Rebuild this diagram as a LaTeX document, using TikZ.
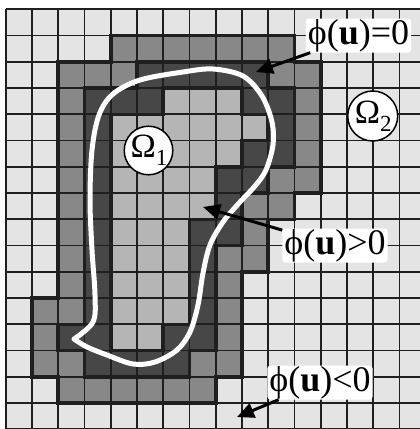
\documentclass[tikz,border=0pt]{standalone}
\usepackage{fontspec}
\setmainfont{Liberation Serif}
\usetikzlibrary{arrows.meta}
\definecolor{c0}{gray}{0.895}
\definecolor{c1}{gray}{0.535}
\definecolor{c2}{gray}{0.28}
\definecolor{c3}{gray}{0.71}
\definecolor{gridc}{gray}{0.12}
\def\M{{0,0,0,0,0,0,0,0,0,0,0,0,0,0,0,0,
0,0,0,0,1,1,1,1,1,1,1,0,0,0,0,0,
0,0,1,1,1,2,2,2,2,2,1,1,0,0,0,0,
0,0,1,2,2,2,3,3,3,2,2,1,0,0,0,0,
0,0,1,2,3,3,3,3,3,3,2,1,0,0,0,0,
0,0,1,2,3,3,3,3,3,2,2,1,0,0,0,0,
0,0,1,2,3,3,3,3,2,2,1,1,0,0,0,0,
0,0,1,2,3,3,3,3,2,1,1,0,0,0,0,0,
0,0,1,2,3,3,3,2,2,1,0,0,0,0,0,0,
0,0,1,2,3,3,3,2,1,1,0,0,0,0,0,0,
0,0,1,2,3,3,3,2,1,0,0,0,0,0,0,0,
0,1,1,2,3,3,3,2,1,0,0,0,0,0,0,0,
0,1,2,2,3,3,2,2,1,0,0,0,0,0,0,0,
0,1,1,2,2,2,2,1,1,0,0,0,0,0,0,0,
0,0,1,1,1,1,1,1,0,0,0,0,0,0,0,0,
0,0,0,0,0,0,0,0,0,0,0,0,0,0,0,0}}
\tikzset{
  thingrid/.style={draw=gridc, line width=1.8pt},
  thickgrid/.style={draw=gridc, line width=3.6pt, line cap=rect},
  curve/.style={draw=white, line width=5pt, line join=round, line cap=round},
  lbl/.style={fill=white, rounded corners=3pt, inner xsep=2pt, inner ysep=0pt,
    font=\fontsize{36}{36}\selectfont, text height=26pt, text depth=8pt},
  omega/.style={circle, draw=black, line width=1.5pt, fill=white, inner sep=0pt,
    font=\fontsize{34}{34}\selectfont},
  arr/.style={draw=black, line width=3pt, -{Triangle[length=17pt,width=15pt]}}
}
\begin{document}
\begin{tikzpicture}[x=1pt,y=-1pt]
\useasboundingbox (0,0) rectangle (420,429);
\fill[white] (0,0) rectangle (420,429);
\begin{scope}
\clip (0,0) rectangle (420,429);
% cells
\foreach \r in {0,...,15}{
  \foreach \c in {0,...,15}{
    \pgfmathtruncatemacro\idx{16*\r+\c}
    \pgfmathtruncatemacro\v{\M[\idx]}
    \fill[c\v] ({5.7+26.25*\c},{9.3+26.25*\r}) rectangle ({5.7+26.25*(\c+1)},{9.3+26.25*(\r+1)});
  }
}
% thin grid
\foreach \i in {0,...,16}{
  \draw[thingrid] ({5.7+26.25*\i},9.3) -- ({5.7+26.25*\i},{9.3+26.25*16});
  \draw[thingrid] (5.7,{9.3+26.25*\i}) -- ({5.7+26.25*16},{9.3+26.25*\i});
}
% thick boundaries between classes
\foreach \r in {0,...,15}{
  \foreach \c in {0,...,15}{
    \pgfmathtruncatemacro\idx{16*\r+\c}
    \pgfmathtruncatemacro\v{\M[\idx]}
    \ifnum\c<15
      \pgfmathtruncatemacro\idr{\idx+1}
      \pgfmathtruncatemacro\w{\M[\idr]}
      \ifnum\v=\w\else
        \draw[thickgrid] ({5.7+26.25*(\c+1)},{9.3+26.25*\r}) -- ({5.7+26.25*(\c+1)},{9.3+26.25*(\r+1)});
      \fi
    \fi
    \ifnum\r<15
      \pgfmathtruncatemacro\idd{\idx+16}
      \pgfmathtruncatemacro\w{\M[\idd]}
      \ifnum\v=\w\else
        \draw[thickgrid] ({5.7+26.25*\c},{9.3+26.25*(\r+1)}) -- ({5.7+26.25*(\c+1)},{9.3+26.25*(\r+1)});
      \fi
    \fi
  }
}
\end{scope}
% interface curve
\draw[curve] plot[smooth, tension=0.55] coordinates {
 (74,339) (93,322) (95,295) (92,250) (90,200) (92,150) (99,115) (113,94)
 (140,80) (183,72) (213,69) (243,76) (262,96) (272,122) (273,145) (266,170)
 (255,186) (240,202) (223,222) (210,245) (203,273) (198,305) (190,332)
 (177,350) (155,362) (133,364) (107,355) (87,347) (74,339)};
% region labels
\node[omega, minimum size=47pt] (om1) at (148.5,150.5) {\hspace*{1pt}Ω\raisebox{-8pt}{\fontsize{23}{23}\selectfont 1}};
\node[omega, minimum size=50pt] (om2) at (372.7,116) {\hspace*{1pt}Ω\raisebox{-8pt}{\fontsize{23}{23}\selectfont 2}};
% level set labels
\coordinate (t0) at (256,72);
\coordinate (t1) at (203,207);
\coordinate (t2) at (237,417);
\node[lbl] (l0) at (358.5,35.5) {ϕ(\textbf{u})=0};
\node[lbl] (l1) at (335,245.5) {ϕ(\textbf{u})>0};
\node[lbl] (l2) at (320,382.5) {ϕ(\textbf{u})<0};
\draw[arr] (l0) -- (t0);
\draw[arr] (l1) -- (t1);
\draw[arr] (l2) -- (t2);
\end{tikzpicture}
\end{document}
